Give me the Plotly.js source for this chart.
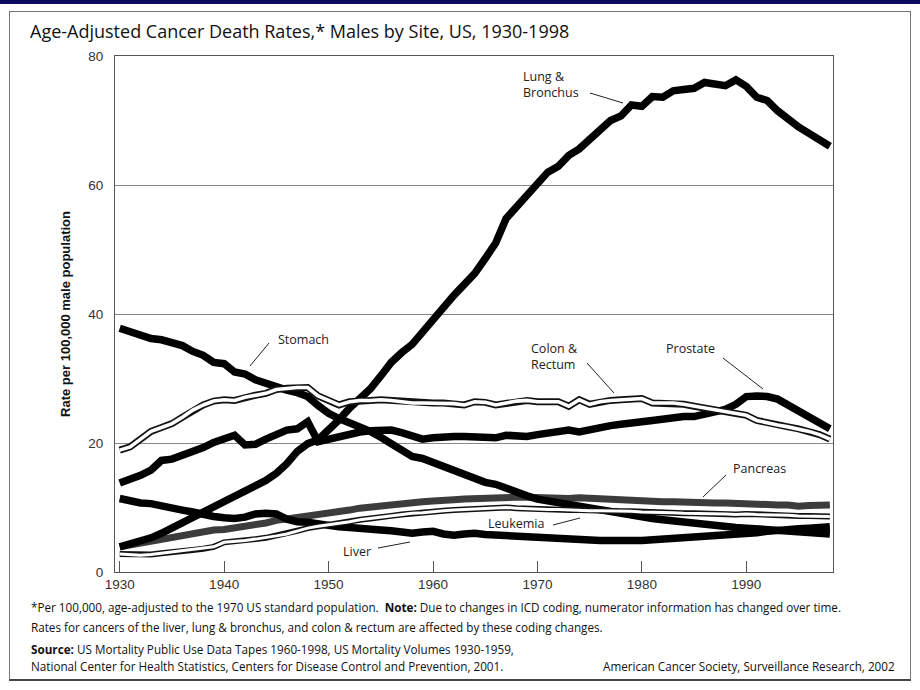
<!DOCTYPE html>
<html><head><meta charset="utf-8">
<script src="https://cdn.plot.ly/plotly-3.0.1.min.js"></script>
<style>
html,body{margin:0;padding:0;background:#fff;}
#wrap{position:relative;width:920px;height:690px;overflow:hidden;background:#fff;}
#topband{position:absolute;left:0;top:0;width:920px;height:4px;background:#0a0a5c;}
#frame{position:absolute;left:9px;top:11px;width:900px;height:667px;border:1px solid #777;border-bottom:2px solid #444;}
#chart{position:absolute;left:0;top:0;width:920px;height:690px;}
</style></head>
<body><div id="wrap"><div id="topband"></div><div id="frame"></div><div id="chart"></div></div>
<script>
// ---- DATA ----
var years = [1930,1931,1932,1933,1934,1935,1936,1937,1938,1939,
  1940,1941,1942,1943,1944,1945,1946,1947,1948,1949,
  1950,1951,1952,1953,1954,1955,1956,1957,1958,1959,
  1960,1961,1962,1963,1964,1965,1966,1967,1968,1969,
  1970,1971,1972,1973,1974,1975,1976,1977,1978,1979,
  1980,1981,1982,1983,1984,1985,1986,1987,1988,1989,
  1990,1991,1992,1993,1994,1995,1996,1997,1998];

var lung = [3.9,4.3,4.8,5.3,6.0,6.8,7.6,8.5,9.5,10.3,
  11.0,11.9,12.6,13.4,14.2,15.3,16.8,18.7,19.9,20.5,
  22.0,23.6,25.4,26.9,28.4,30.4,32.5,34.0,35.3,37.2,
  39.2,41.0,42.9,44.6,46.3,48.6,51.0,54.8,56.5,58.5,
  60.2,62.0,62.9,64.6,65.6,67.0,68.5,70.0,70.7,72.4,
  72.2,73.7,73.6,74.6,74.8,75.0,75.9,75.7,75.4,76.3,
  75.3,73.6,73.1,71.5,70.2,69.0,68.0,66.9,66.0];

var stomach = [37.8,37.3,36.6,36.2,36.0,35.5,35.1,34.2,33.6,32.5,
  32.3,31.0,30.7,29.8,29.2,28.6,28.2,27.8,27.2,25.8,
  24.6,23.8,23.2,22.6,21.8,20.9,19.8,18.9,17.9,17.6,
  17.0,16.3,15.6,15.1,14.6,13.9,13.6,12.9,12.4,11.8,
  11.3,11.0,10.8,10.4,10.2,9.9,9.7,9.3,9.0,8.7,
  8.6,8.3,8.1,7.9,7.7,7.5,7.3,7.1,7.0,6.9,
  6.8,6.7,6.6,6.5,6.4,6.3,6.2,6.0,5.9];

var colonRectum = [18.9,19.4,20.6,21.8,22.4,23.0,24.0,25.1,25.9,26.5,
  26.7,26.6,27.1,27.4,27.7,28.3,28.5,28.6,28.6,27.3,
  26.6,25.9,26.4,26.6,26.6,26.7,26.6,26.4,26.2,26.2,
  26.2,26.2,26.1,25.9,26.4,26.3,25.9,26.2,26.5,26.6,
  26.4,26.4,26.4,25.7,26.7,26.0,26.4,26.6,26.7,26.7,
  26.9,26.2,26.2,26.2,26.0,25.7,25.4,25.1,24.8,24.5,
  24.3,23.5,23.1,22.8,22.5,22.2,21.8,21.3,20.6];

var prostate = [13.8,14.3,15.0,15.8,17.3,17.5,18.0,18.5,19.3,20.1,
  20.7,21.2,19.7,19.8,20.6,21.3,22.0,22.2,23.3,20.2,
  20.6,20.9,21.4,21.7,21.9,22.0,22.0,21.6,21.0,20.6,
  20.8,21.0,21.0,21.0,21.0,20.8,20.8,21.2,21.1,21.0,
  21.3,21.5,21.8,22.0,21.7,22.1,22.5,22.7,22.9,23.2,
  23.3,23.5,23.7,24.0,24.1,24.1,24.5,24.6,25.2,26.0,
  27.2,27.3,27.2,26.8,25.9,25.0,24.1,23.2,22.2];

var pancreas = [3.9,4.2,4.5,4.8,5.1,5.4,5.7,6.0,6.2,6.5,
  6.6,6.8,7.0,7.2,7.6,8.0,8.2,8.5,8.7,8.9,
  9.2,9.4,9.6,9.9,10.1,10.3,10.5,10.6,10.7,10.9,
  11.0,11.2,11.2,11.3,11.4,11.5,11.6,11.7,11.6,11.6,
  11.5,11.4,11.5,11.4,11.5,11.4,11.4,11.3,11.2,11.1,
  11.0,10.9,10.9,10.9,10.8,10.8,10.7,10.7,10.7,10.6,
  10.7,10.6,10.5,10.4,10.4,10.2,10.3,10.4,10.4];

var leukemia = [2.8,2.7,2.6,2.7,2.9,3.0,3.2,3.4,3.6,3.9,
  4.6,4.7,4.9,5.1,5.3,5.6,5.9,6.4,6.8,7.1,
  7.3,7.6,7.8,8.1,8.3,8.6,8.7,8.9,9.1,9.2,
  9.4,9.5,9.6,9.7,9.8,9.9,10.0,10.0,9.9,9.8,
  9.8,9.7,9.7,9.6,9.6,9.5,9.5,9.5,9.4,9.4,
  9.3,9.3,9.2,9.2,9.1,9.1,9.0,9.0,9.0,8.9,
  9.0,8.9,8.9,8.8,8.8,8.7,8.7,8.6,8.6];

var liver = [11.4,10.9,10.7,10.6,10.2,9.9,9.6,9.3,8.9,8.6,
  8.4,8.3,8.5,9.0,9.1,9.0,8.2,7.8,7.7,7.4,
  7.1,7.0,6.9,6.7,6.5,6.5,6.4,6.2,6.0,6.2,
  6.3,5.9,5.7,5.9,6.0,5.8,5.7,5.7,5.6,5.6,
  5.5,5.4,5.3,5.2,5.1,4.9,4.9,4.9,5.0,4.9,
  4.9,5.0,5.0,5.1,5.2,5.3,5.4,5.6,5.7,5.9,
  6.0,6.1,6.3,6.5,6.6,6.7,6.8,6.9,7.0];

var xTickVals = [1930,1940,1950,1960,1970,1980,1990];
var xTickText = ['1930','1940','1950','1960','1970','1980','1990'];
var yTickVals = [0,20,40,60,80];
var yTickText = ['0','20','40','60','80'];

// ---- LAYOUT HELPERS (pixel -> paper) ----
var PL = 115, PR = 833, PT = 56, PB = 572;
function px(x){ return (x - PL) / (PR - PL); }
function py(y){ return (PB - y) / (PB - PT); }

function line(y, color, width){
  return {x: years, y: y, type: 'scatter', mode: 'lines', hoverinfo: 'skip',
          line: {color: color, width: width, shape: 'linear'}, showlegend: false};
}

var traces = [
  line(pancreas, '#3c3c3c', 7),
  line(stomach, '#000', 7.5),
  line(liver, '#000', 7.5),
  line(prostate, '#000', 7.5),
  line(lung, '#000', 7.5),
  line(leukemia, '#111', 6),
  line(leukemia, '#fff', 3),
  line(colonRectum, '#111', 7),
  line(colonRectum, '#fff', 3.6)
];

var labelFont = {family: 'Open Sans, sans-serif', size: 12.5, color: '#222'};
var labels = [
  {t: 'Lung &amp;<br>Bronchus', x: 521, y: 84},
  {t: 'Stomach', x: 276, y: 339},
  {t: 'Colon &amp;<br>Rectum', x: 529, y: 357},
  {t: 'Prostate', x: 664, y: 348},
  {t: 'Pancreas', x: 731, y: 468},
  {t: 'Leukemia', x: 486, y: 523},
  {t: 'Liver', x: 341, y: 551}
];
var pointers = [
  [590, 93, 623, 103],
  [269, 343, 250, 366],
  [587, 363, 614, 393],
  [723, 358, 763, 389],
  [726, 475, 703, 497],
  [553, 525, 580, 518],
  [378, 548, 410, 542]
];

var annotations = labels.map(function(l){
  return {text: l.t, x: px(l.x), y: py(l.y), xref: 'paper', yref: 'paper',
          xanchor: 'left', yanchor: 'middle', align: 'left', showarrow: false, font: labelFont};
});
var noteFont = {family: 'Open Sans, sans-serif', size: 11.7, color: '#111'};
var notes = [
  {t: '*Per 100,000, age-adjusted to the 1970 US standard population.  <b>Note:</b> Due to changes in ICD coding, numerator information has changed over time.', x: 29, y: 607, a: 'left'},
  {t: 'Rates for cancers of the liver, lung &amp; bronchus, and colon &amp; rectum are affected by these coding changes.', x: 29, y: 627, a: 'left'},
  {t: '<b>Source:</b> US Mortality Public Use Data Tapes 1960-1998, US Mortality Volumes 1930-1959,', x: 29, y: 649, a: 'left'},
  {t: 'National Center for Health Statistics, Centers for Disease Control and Prevention, 2001.', x: 29, y: 666, a: 'left'},
  {t: 'American Cancer Society, Surveillance Research, 2002', x: 897, y: 666, a: 'right'}
];
notes.forEach(function(n){
  annotations.push({text: n.t, x: px(n.x), y: py(n.y), xref: 'paper', yref: 'paper',
    xanchor: n.a, yanchor: 'middle', showarrow: false, font: noteFont});
});

var shapes = pointers.map(function(p){
  return {type: 'line', xref: 'paper', yref: 'paper', x0: px(p[0]), y0: py(p[1]), x1: px(p[2]), y1: py(p[3]),
          line: {color: '#222', width: 1}};
});

var tickFont = {family: 'Liberation Sans, Arial, sans-serif', size: 13.5, color: '#333'};
var layout = {
  width: 920, height: 690,
  margin: {l: PL, r: 920 - PR, t: PT, b: 690 - PB, pad: 0},
  paper_bgcolor: 'rgba(0,0,0,0)', plot_bgcolor: 'rgba(0,0,0,0)',
  title: {text: 'Age-Adjusted Cancer Death Rates,* Males by Site, US, 1930-1998',
          x: 30/920, xref: 'container', xanchor: 'left', y: 1 - 32/690, yref: 'container', yanchor: 'middle',
          font: {family: 'Open Sans, sans-serif', size: 18, color: '#111'}},
  xaxis: {range: [1929.55, 1998.3], tickvals: xTickVals, ticktext: xTickText,
          ticks: 'inside', ticklen: 11, tickcolor: '#555', tickwidth: 1,
          showline: true, linecolor: '#555', linewidth: 1, mirror: true,
          showgrid: false, zeroline: false, tickfont: tickFont, fixedrange: true},
  yaxis: {range: [0, 80], tickvals: yTickVals, ticktext: yTickText,
          ticks: '', showline: true, linecolor: '#555', linewidth: 1, mirror: true,
          showgrid: true, gridcolor: '#888', gridwidth: 1, zeroline: false,
          tickfont: tickFont, ticklabelstandoff: 8, fixedrange: true,
          title: {text: 'Rate per 100,000 male population', standoff: 14,
                  font: {family: 'Liberation Sans, Arial, sans-serif', size: 13, color: '#111', weight: 'bold'}}},
  annotations: annotations,
  shapes: shapes
};

Plotly.newPlot('chart', traces, layout, {staticPlot: true, displayModeBar: false});
</script>
</body></html>
